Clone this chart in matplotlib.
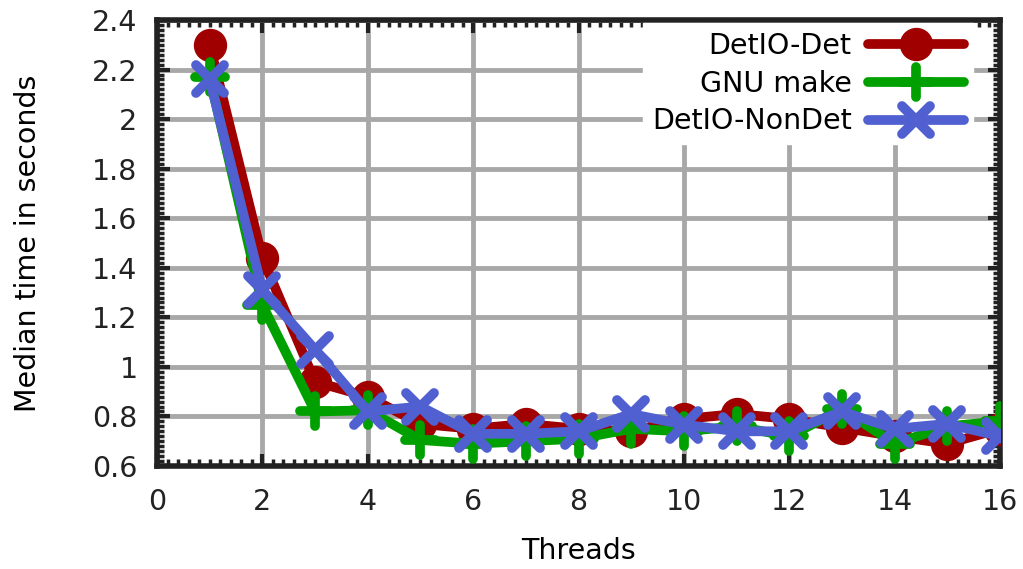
import numpy as np
import matplotlib.pyplot as plt
from matplotlib.ticker import MultipleLocator
from matplotlib.markers import MarkerStyle

threads = [1, 2, 3, 4, 5, 6, 7, 8, 9, 10, 11, 12, 13, 14, 15, 16]
detio_det = [2.30, 1.44, 0.94, 0.88, 0.77, 0.75, 0.77, 0.75, 0.74, 0.79,
             0.81, 0.79, 0.755, 0.72, 0.69, 0.75]
gnu_make = [2.17, 1.25, 0.82, 0.825, 0.705, 0.69, 0.70, 0.71, 0.75, 0.74,
            0.76, 0.72, 0.83, 0.69, 0.76, 0.78]
detio_nondet = [2.16, 1.31, 1.07, 0.82, 0.84, 0.73, 0.73, 0.74, 0.81, 0.767,
                0.74, 0.74, 0.82, 0.75, 0.77, 0.72]

RED = '#a00000'
GREEN = '#00a000'
BLUE = '#5060d0'
FS = 20.5

fig = plt.figure(figsize=(10.23, 5.69), dpi=100)
ax = fig.add_axes([157/1023, 1 - 466/569, (1000-157)/1023, (466-20)/569])

plus = MarkerStyle('+', capstyle='round')
cross = MarkerStyle('x', capstyle='round')

ax.plot(threads, detio_det, color=RED, lw=7, marker='o', ms=23,
        solid_capstyle='round', solid_joinstyle='round', label='DetIO-Det', zorder=3)
ax.plot(threads, gnu_make, color=GREEN, lw=7, marker=plus, ms=22, mew=7,
        solid_capstyle='round', solid_joinstyle='round', label='GNU make', zorder=4)
ax.plot(threads, detio_nondet, color=BLUE, lw=7, marker=cross, ms=20, mew=7,
        solid_capstyle='round', solid_joinstyle='round', label='DetIO-NonDet', zorder=5)

ax.set_xlim(0, 16)
ax.set_ylim(0.6, 2.4)
ax.xaxis.set_major_locator(MultipleLocator(2))
ax.xaxis.set_minor_locator(MultipleLocator(0.2))
ax.yaxis.set_minor_locator(MultipleLocator(0.02))
ax.set_yticks(np.arange(0.6, 2.41, 0.2))
ax.set_yticklabels(['0.6', '0.8', '1', '1.2', '1.4', '1.6', '1.8', '2', '2.2', '2.4'])

ax.grid(True, which='major', color='#a8a8a8', lw=3.5, zorder=0)
ax.set_axisbelow(True)
ax.tick_params(which='major', direction='in', length=9, width=3, color='#222222',
               top=True, right=True, labelsize=FS, labelcolor='#222222')
ax.tick_params(axis='y', which='major', pad=14)
ax.tick_params(axis='x', which='major', pad=16)
ax.tick_params(which='minor', direction='in', length=5, width=2.5, color='#222222',
               top=True, right=True)
for s in ax.spines.values():
    s.set_linewidth(4)
    s.set_color('#222222')

ax.set_xlabel('Threads', fontsize=FS, va='center')
ax.set_ylabel('Median time in seconds', fontsize=FS, va='center')
ax.xaxis.set_label_coords(0.5, (466 - 551) / 446)
ax.yaxis.set_label_coords((28 - 157) / 843, 0.5)

leg = ax.legend(loc='upper right', bbox_to_anchor=((973 - 157) / 843, 1 - 3 / 446),
                markerfirst=False, fontsize=FS, frameon=True,
                fancybox=False, edgecolor='white', framealpha=1.0,
                handlelength=3.4, labelspacing=0.35, borderaxespad=0,
                borderpad=0.3, handletextpad=0.56)
for t in leg.get_texts():
    t.set_ha('right')
leg.set_zorder(10)

fig.savefig('out.png', dpi=100)
